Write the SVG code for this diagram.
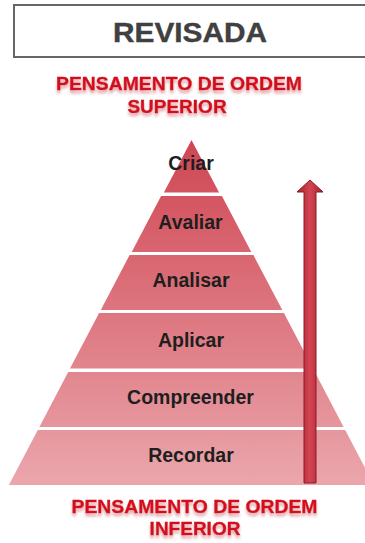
<svg xmlns="http://www.w3.org/2000/svg" width="365" height="543" viewBox="0 0 365 543">
<defs>
<linearGradient id="pg" gradientUnits="userSpaceOnUse" x1="0" y1="140" x2="0" y2="485">
<stop offset="0" stop-color="#cf4653"/>
<stop offset="1" stop-color="#eba6ac"/>
</linearGradient>
<linearGradient id="ag" x1="0" y1="0" x2="1" y2="0">
<stop offset="0" stop-color="#a8202f"/>
<stop offset="0.5" stop-color="#d44552"/>
<stop offset="1" stop-color="#a8202f"/>
</linearGradient>
<filter id="sh" x="-10%" y="-30%" width="120%" height="180%">
<feGaussianBlur in="SourceAlpha" stdDeviation="1.5"/>
<feOffset dx="0" dy="2.5" result="b"/>
<feFlood flood-color="#d88890" flood-opacity="0.8"/>
<feComposite in2="b" operator="in"/>
<feMerge><feMergeNode/><feMergeNode in="SourceGraphic"/></feMerge>
</filter>
</defs>
<style>
.band{fill:url(#pg);}
.lbl{font-family:"Liberation Sans",Arial,sans-serif;font-weight:bold;font-size:19.5px;fill:#1e1e1e;text-anchor:middle;}
.red{font-family:"Liberation Sans",Arial,sans-serif;font-weight:bold;font-size:19px;fill:#d4101e;stroke:#d4101e;stroke-width:0.4;text-anchor:middle;filter:url(#sh);}
</style>
<rect width="365" height="543" fill="#ffffff"/>
<g id="title">
<rect x="14" y="5" width="360" height="52" fill="#ffffff" stroke="#666666" stroke-width="2"/>
<text x="190" y="42" font-family="'Liberation Sans',Arial,sans-serif" font-weight="bold" font-size="28" fill="#404040" stroke="#404040" stroke-width="0.4" text-anchor="middle" textLength="154" lengthAdjust="spacingAndGlyphs">REVISADA</text>
</g>
<g id="top-label">
<text class="red" x="179" y="90" textLength="246" lengthAdjust="spacingAndGlyphs">PENSAMENTO DE ORDEM</text>
<text class="red" x="177" y="113">SUPERIOR</text>
</g>
<g id="criar">
<polygon class="band" points="191.5,140 219.1,192.5 163.9,192.5"/>
<text class="lbl" x="191" y="170">Criar</text>
</g>
<g id="avaliar">
<polygon class="band" points="161.1,196 221.9,196 251.3,252 131.7,252"/>
<text class="lbl" x="190.5" y="229">Avaliar</text>
</g>
<g id="analisar">
<polygon class="band" points="129.6,255 253.4,255 282.3,310 100.8,310"/>
<text class="lbl" x="191" y="287">Analisar</text>
</g>
<g id="aplicar">
<polygon class="band" points="99.1,313 283.9,313 313.0,368.5 70.0,368.5"/>
<text class="lbl" x="191" y="347">Aplicar</text>
</g>
<g id="compreender">
<polygon class="band" points="68.2,372 314.8,372 343.6,427 39.4,427"/>
<text class="lbl" x="190.5" y="404">Compreender</text>
</g>
<g id="recordar">
<polygon class="band" points="37.8,430 345.2,430 374.1,485 8.9,485"/>
<text class="lbl" x="191" y="462">Recordar</text>
</g>
<g id="connectors">
<path d="M304,483 L304,192 L297,192 L310,180 L323,192 L316,192 L316,483 Z" fill="url(#ag)" stroke="#8c1a26" stroke-width="1"/>
</g>
<g id="bottom-label">
<text class="red" x="194.5" y="513" textLength="246" lengthAdjust="spacingAndGlyphs">PENSAMENTO DE ORDEM</text>
<text class="red" x="195" y="535">INFERIOR</text>
</g>
</svg>
